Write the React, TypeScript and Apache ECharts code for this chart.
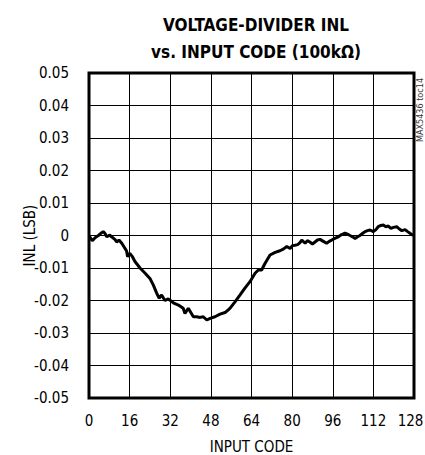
import React, { useEffect, useRef } from "react";
import * as echarts from "echarts";

const titleLines = ["VOLTAGE-DIVIDER INL", "vs. INPUT CODE (100kΩ)"];
const xTicks = [0, 16, 32, 48, 64, 80, 96, 112, 128];
const codes = [
  0, 1.3, 2.5, 3.7, 4.9, 5.6, 6.3, 7.0, 8.2, 8.9, 10.2, 10.9, 11.8, 12.9, 14.2, 14.8,
  15.2, 16.1, 17.0, 18.1, 20.1, 22.1, 24.0, 25.3, 26.7, 27.6, 28.6, 29.9, 31.2, 33.2,
  35.2, 37.1, 37.8, 39.1, 41.1, 42.4, 43.8, 45.0, 46.4, 47.7, 49.6, 51.6, 53.6, 55.5,
  57.5, 59.5, 61.4, 63.4, 65.4, 66.7, 68.0, 69.3, 71.3, 73.3, 75.2, 76.5, 77.9, 79.2,
  80.2, 81.1, 82.2, 83.1, 83.8, 85.1, 86.0, 87.0, 88.0, 89.0, 90.0, 91.0, 92.3, 93.6,
  94.6, 95.6, 97.0, 98.2, 99.5, 100.8, 101.8, 102.8, 103.8, 104.8, 105.8, 106.7, 107.7,
  108.7, 109.7, 110.7, 112.0, 113.0, 113.9, 115.0, 115.9, 116.9, 117.9, 118.9, 119.9,
  121.2, 122.2, 123.2, 124.5, 125.5, 126.4, 127.7,
];
const inl = [
  0, -0.0016, -0.0006, 0, 0.0008, 0.0012, 0.0006, -0.0004, 0.0001, -0.0004, -0.0012,
  -0.002, -0.0014, -0.0024, -0.004, -0.0048, -0.0065, -0.0055, -0.0064, -0.008, -0.01,
  -0.0116, -0.0132, -0.0152, -0.0178, -0.0193, -0.0183, -0.02, -0.0195, -0.0207, -0.0214,
  -0.0224, -0.024, -0.0224, -0.025, -0.025, -0.0252, -0.025, -0.026, -0.0255, -0.025,
  -0.0242, -0.0237, -0.0224, -0.0204, -0.0183, -0.0162, -0.0142, -0.0116, -0.0106,
  -0.0106, -0.0086, -0.006, -0.0052, -0.0047, -0.0042, -0.0034, -0.004, -0.0031, -0.003,
  -0.0028, -0.0022, -0.0014, -0.0024, -0.0016, -0.002, -0.0026, -0.002, -0.0014, -0.0012,
  -0.0018, -0.0024, -0.0018, -0.0014, -0.0008, -0.0004, 0.0003, 0.0007, 0.0004, 0,
  -0.0004, -0.0009, -0.0004, 0, 0.0006, 0.0012, 0.0015, 0.0017, 0.0012, 0.0018, 0.0027,
  0.0031, 0.0032, 0.0027, 0.0029, 0.0022, 0.0025, 0.0027, 0.002, 0.0015, 0.0018, 0.0012,
  0.0007, 0,
];

const FONT = "'Liberation Sans Narrow', 'DejaVu Sans Condensed', 'Liberation Sans', sans-serif";

export default function App() {
  const ref = useRef<HTMLDivElement>(null);
  useEffect(() => {
    if (!ref.current) return;
    const chart = echarts.init(ref.current, null, { renderer: "svg" });
    const data = codes.map((c, i) => [c, inl[i]]);
    const lastTick = xTicks[xTicks.length - 1];
    chart.setOption({
      animation: false,
      backgroundColor: "#fff",
      title: {
        text: titleLines.join("\n"),
        left: 251,
        top: 6,
        textAlign: "center",
        textStyle: {
          fontFamily: FONT,
          fontWeight: "bold",
          fontSize: 17,
          lineHeight: 27,
          color: "#000",
        },
      },
      grid: {
        left: 89,
        right: 11,
        top: 73,
        bottom: 57,
        show: true,
        borderColor: "#000",
        borderWidth: 3,
        containLabel: false,
        outerBoundsMode: "none",
      },
      xAxis: {
        type: "value",
        min: 0,
        max: 128,
        interval: 16,
        name: "INPUT CODE",
        nameLocation: "middle",
        nameGap: 41,
        nameMoveOverlap: false,
        nameTextStyle: { fontFamily: FONT, fontSize: 15, lineHeight: 15, color: "#000" },
        axisLine: { show: false },
        axisTick: { show: false },
        axisLabel: {
          margin: 15,
          fontFamily: FONT,
          fontSize: 15,
          color: "#000",
          formatter: (v: number) =>
            !xTicks.includes(v) ? "" : v === lastTick ? `{r|${v}}` : String(v),
          rich: {
            r: {
              fontFamily: FONT,
              fontSize: 15,
              color: "#000",
              padding: [0, 7, 0, 0],
            },
          },
        },
        splitLine: { show: true, lineStyle: { color: "#000", width: 1 } },
      },
      yAxis: {
        type: "value",
        min: -0.05,
        max: 0.05,
        interval: 0.01,
        name: "INL (LSB)",
        nameLocation: "middle",
        nameRotate: 90,
        nameGap: 52,
        nameMoveOverlap: false,
        nameTextStyle: { fontFamily: FONT, fontSize: 15, color: "#000" },
        axisLine: { show: false },
        axisTick: { show: false },
        axisLabel: {
          margin: 20,
          fontFamily: FONT,
          fontSize: 15,
          color: "#000",
          formatter: (v: number) => {
            const r = Math.round(v * 100) / 100;
            return r === 0 ? "0" : r.toFixed(2);
          },
        },
        splitLine: { show: true, lineStyle: { color: "#000", width: 1 } },
      },
      graphic: [
        {
          type: "text",
          x: 420,
          y: 110,
          rotation: Math.PI / 2,
          style: {
            text: "MAX5436 toc14",
            fontFamily: FONT,
            fontSize: 9,
            fill: "#333",
            align: "center",
            verticalAlign: "middle",
          },
        },
      ],
      series: [
        {
          type: "line",
          data,
          showSymbol: false,
          symbol: "none",
          lineStyle: { color: "#000", width: 3 },
          silent: true,
        },
      ],
    });
    return () => chart.dispose();
  }, []);
  return (
    <div
      ref={ref}
      style={{ position: "absolute", left: 0, top: 0, width: 425, height: 455 }}
    />
  );
}
